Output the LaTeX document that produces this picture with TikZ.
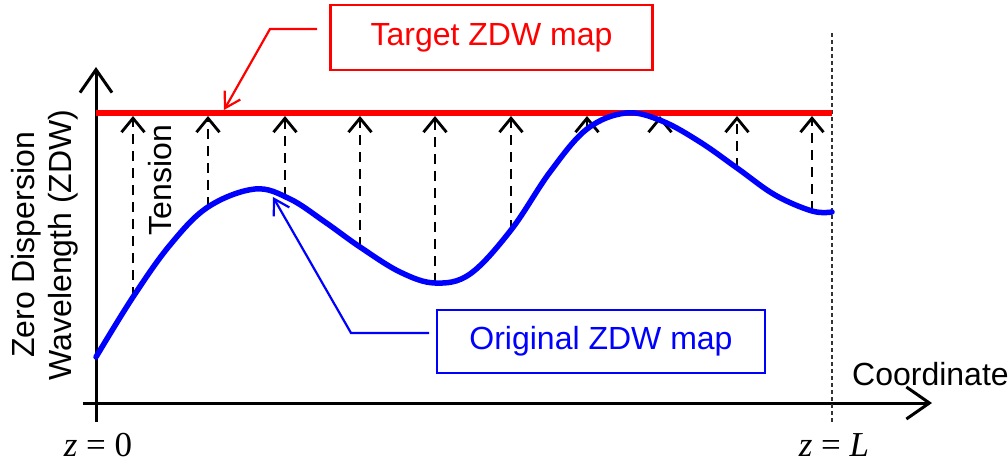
\documentclass[tikz,border=0pt]{standalone}
\usepackage{fontspec}
\setmainfont{Liberation Sans}
\newfontfamily\tnr{Liberation Serif}
\usetikzlibrary{arrows.meta}
\definecolor{zred}{RGB}{255,0,0}
\definecolor{zblue}{RGB}{0,0,255}
\begin{document}
\begin{tikzpicture}[x=1pt,y=-1pt,
  lab/.style={font=\fontsize{32}{37}\selectfont, inner sep=0pt},
  axis/.style={line width=3pt, -{Straight Barb[length=23pt,width=32pt,line width=3pt]}},
  tens/.style={line width=2.8pt, dash pattern=on 10pt off 7pt, -{Straight Barb[length=14pt,width=23pt,line width=2.8pt]}},
  callred/.style={zred, line width=2.2pt, -{Straight Barb[length=15pt,width=18pt,line width=2.2pt]}},
  callblue/.style={zblue, line width=2.2pt, -{Straight Barb[length=15pt,width=18pt,line width=2.2pt]}},
  mapbox/.style={draw, line width=2.2pt, inner sep=0pt, font=\fontsize{32}{37}\selectfont}]
\useasboundingbox (0,0) rectangle (1008,465);
% axes
\coordinate (xs) at (83,403);
\coordinate (xe) at (932,403);
\coordinate (ys) at (96,422);
\coordinate (ye) at (96,67);
\draw[axis] (xs) -- (xe);
\draw[axis] (ys) -- (ye);
% end line z = L
\coordinate (ls) at (832,33);
\coordinate (le) at (832,422);
\draw[line width=1.4pt, dash pattern=on 4pt off 3pt, black!80] (ls) -- (le);
% target line
\coordinate (t0) at (96,113);
\coordinate (t1) at (832,113);
\draw[zred, line width=5.5pt] (t0) -- (t1);
% tension arrows
\foreach \x/\y in {133/297,208/207,285/197,360/247,435/283,511/230,587/130,660/121,737/168,812/211}{
  \coordinate (b\x) at (\x,\y);
  \coordinate (a\x) at (\x,116);
  \draw[tens] (b\x) -- (a\x);
}
% original curve
\draw[zblue, line width=5.5pt, line cap=round] plot[smooth, tension=0.6] coordinates {
 (96,357) (133,297) (170,245) (208,207) (255,189) (290,199) (325,222) (360,247) (400,272) (435,283) (470,274) (511,230) (550,172) (587,129) (626,113) (662,121) (700,142) (737,168) (775,195) (812,211) (832,212)};
% labels
\node[lab, rotate=90] (tension) at (160,180) {Tension};
\node[lab, rotate=90, align=center] (ylab) at (45,245) {Zero Dispersion\\Wavelength (ZDW)};
\node[lab, anchor=west] (xlab) at (852,374) {Coordinate};
\node[font=\fontsize{35}{40}\selectfont\tnr, inner sep=0pt] (z0) at (98,445) {\textit{z} = 0};
\node[font=\fontsize{35}{40}\selectfont\tnr, inner sep=0pt] (zL) at (834,445) {\textit{z} = \textit{L}};
% boxes
\node[mapbox, zred, minimum width=322pt, minimum height=65pt] (tbox) at (491.5,37.5) {Target ZDW map};
\node[mapbox, zblue, minimum width=328pt, minimum height=63pt] (obox) at (601,341.5) {Original ZDW map};
% callouts
\coordinate (rs) at (317,29);
\coordinate (rk) at (270,29);
\coordinate (rt) at (224,110);
\draw[callred] (rs) -- (rk) -- (rt);
\coordinate (bs) at (429,333);
\coordinate (bk) at (351,333);
\coordinate (bt) at (273,197);
\draw[callblue] (bs) -- (bk) -- (bt);
\end{tikzpicture}
\end{document}
